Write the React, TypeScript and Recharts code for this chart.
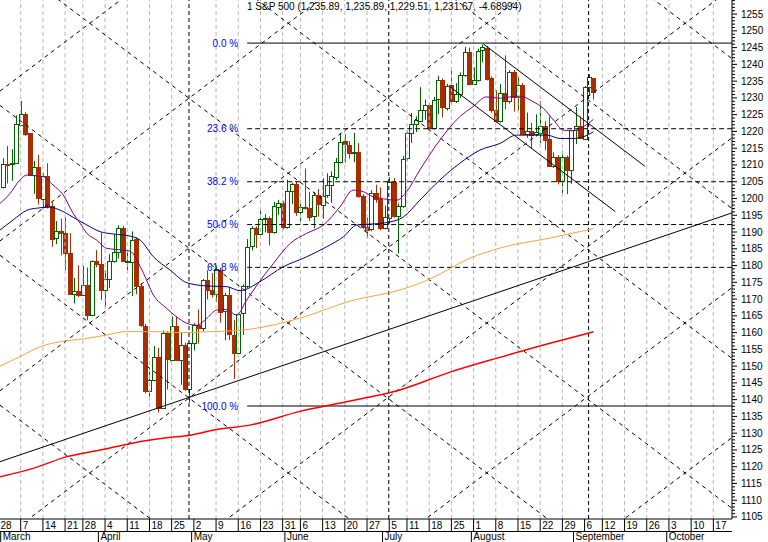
import React from 'react';
import { ComposedChart, Bar, Line, XAxis, YAxis, ReferenceLine } from 'recharts';

// S&P 500 daily, trading-day index i (0 = Mar 7 2005), first bar = Mar 1 (i = -4)
const firstIndex = -4;
const opens = [
  1203.6, 1210.4, 1210.1, 1210.5, 1222.1, 1225.3, 1219.4, 1207.0, 1209.3, 1200.1,
  1206.8, 1197.8, 1188.1, 1190.2, 1189.7, 1183.8, 1171.7, 1172.5, 1171.4, 1174.3,
  1165.4, 1181.4, 1180.6, 1172.9, 1176.1, 1181.4, 1184.1, 1191.1, 1181.2, 1181.2,
  1187.8, 1173.8, 1162.1, 1142.6, 1146.0, 1152.8, 1137.5, 1159.9, 1152.1, 1162.1,
  1151.8, 1156.4, 1143.2, 1156.9, 1162.2, 1161.2, 1175.7, 1172.6, 1171.4, 1178.8,
  1166.2, 1171.1, 1159.4, 1154.1, 1165.7, 1173.8, 1185.6, 1191.1, 1189.3, 1193.9,
  1194.1, 1190.0, 1197.6, 1198.8, 1191.5, 1202.3, 1204.3, 1196.0, 1197.5, 1197.3,
  1194.7, 1200.9, 1198.1, 1200.8, 1203.9, 1206.6, 1211.0, 1217.0, 1216.1, 1213.6,
  1213.9, 1200.7, 1191.6, 1190.7, 1201.6, 1199.9, 1191.3, 1194.4, 1205.0, 1194.9,
  1197.9, 1211.9, 1219.4, 1222.2, 1223.3, 1226.5, 1227.9, 1221.1, 1229.4, 1235.2,
  1227.0, 1233.7, 1229.0, 1231.2, 1236.8, 1243.7, 1234.2, 1235.4, 1244.1, 1245.0,
  1235.9, 1226.4, 1223.1, 1231.4, 1229.1, 1237.8, 1230.4, 1233.9, 1219.3, 1220.2,
  1219.0, 1219.7, 1221.7, 1217.6, 1209.6, 1212.4, 1205.1, 1212.3, 1208.4, 1220.3,
  1221.6, 1218.0, 1233.4, 1235.89,
];
const highs = [
  1212.0, 1215.7, 1214.7, 1224.8, 1229.1, 1225.7, 1219.4, 1211.2, 1213.0, 1207.6,
  1210.5, 1198.9, 1193.3, 1194.0, 1194.3, 1189.6, 1176.3, 1180.1, 1179.9, 1179.4,
  1181.5, 1184.6, 1189.8, 1178.6, 1183.4, 1189.3, 1192.0, 1191.8, 1184.1, 1190.2,
  1188.4, 1174.7, 1162.6, 1148.9, 1156.0, 1155.5, 1160.6, 1160.4, 1164.8, 1164.8,
  1159.9, 1157.0, 1157.0, 1162.9, 1166.9, 1176.0, 1178.6, 1177.8, 1180.0, 1179.4,
  1171.8, 1173.4, 1163.8, 1165.8, 1174.4, 1187.9, 1191.7, 1191.7, 1197.4, 1195.3,
  1194.6, 1199.0, 1199.6, 1199.3, 1205.6, 1204.7, 1205.1, 1198.8, 1208.9, 1202.0,
  1201.9, 1202.8, 1206.0, 1207.5, 1208.1, 1212.1, 1219.6, 1219.1, 1217.1, 1219.6,
  1216.5, 1201.3, 1194.3, 1202.5, 1204.1, 1203.3, 1197.9, 1206.3, 1206.1, 1198.5,
  1212.7, 1220.0, 1225.5, 1224.5, 1233.2, 1229.5, 1228.4, 1230.3, 1236.6, 1235.8,
  1234.2, 1238.4, 1234.4, 1237.6, 1245.2, 1245.0, 1239.1, 1244.7, 1245.9, 1245.5,
  1236.4, 1232.3, 1234.1, 1242.7, 1238.3, 1238.3, 1236.2, 1234.4, 1225.6, 1222.6,
  1225.1, 1229.0, 1223.0, 1224.5, 1213.7, 1212.9, 1214.3, 1212.8, 1220.4, 1227.3,
  1224.5, 1233.6, 1237.1, 1235.89,
];
const lows = [
  1203.0, 1204.5, 1205.3, 1210.5, 1222.1, 1218.6, 1206.7, 1201.4, 1198.2, 1197.0,
  1197.0, 1185.6, 1186.4, 1183.0, 1178.7, 1171.6, 1168.7, 1170.6, 1170.9, 1163.7,
  1164.9, 1179.5, 1169.7, 1167.7, 1173.3, 1180.9, 1182.1, 1181.1, 1178.7, 1170.9,
  1171.4, 1161.7, 1141.9, 1139.8, 1145.5, 1136.2, 1137.2, 1143.0, 1151.6, 1151.5,
  1144.4, 1142.6, 1139.1, 1154.7, 1156.7, 1160.4, 1169.9, 1170.5, 1169.1, 1163.0,
  1157.7, 1157.8, 1146.2, 1153.6, 1159.3, 1173.2, 1184.5, 1185.2, 1188.8, 1189.9,
  1186.0, 1189.5, 1195.1, 1190.8, 1191.0, 1198.4, 1194.8, 1192.8, 1196.7, 1193.3,
  1191.1, 1194.6, 1194.0, 1200.2, 1198.7, 1205.5, 1210.4, 1210.7, 1211.9, 1210.8,
  1200.2, 1190.9, 1188.3, 1190.2, 1198.7, 1190.5, 1190.8, 1192.5, 1194.3, 1183.6,
  1197.2, 1211.3, 1216.6, 1219.8, 1222.7, 1223.5, 1220.6, 1220.6, 1225.1, 1224.2,
  1226.2, 1228.2, 1228.5, 1230.0, 1236.3, 1233.7, 1233.8, 1234.9, 1240.6, 1235.2,
  1225.6, 1222.7, 1222.6, 1226.6, 1228.3, 1225.9, 1226.2, 1219.05, 1218.1, 1215.0,
  1218.5, 1216.5, 1214.4, 1209.5, 1209.1, 1204.2, 1201.5, 1201.3, 1204.4, 1216.2,
  1217.8, 1217.5, 1230.9, 1229.51,
];
const closes = [
  1210.41, 1210.08, 1210.47, 1222.12, 1225.31, 1219.43, 1207.01, 1209.25, 1200.08, 1206.83,
  1197.75, 1188.07, 1190.21, 1189.65, 1183.78, 1171.71, 1172.53, 1171.42, 1174.28, 1165.36,
  1181.41, 1180.59, 1172.92, 1176.12, 1181.39, 1184.07, 1191.14, 1181.20, 1181.21, 1187.76,
  1173.79, 1162.05, 1142.62, 1145.98, 1152.78, 1137.50, 1159.95, 1152.12, 1162.10, 1151.83,
  1156.38, 1143.22, 1156.85, 1162.16, 1161.17, 1175.65, 1172.63, 1171.35, 1178.84, 1166.22,
  1171.11, 1159.36, 1154.05, 1165.69, 1173.80, 1185.56, 1191.08, 1189.28, 1193.86, 1194.07,
  1190.01, 1197.62, 1198.78, 1191.50, 1202.22, 1204.29, 1196.02, 1197.51, 1197.26, 1194.67,
  1200.93, 1198.11, 1200.82, 1203.91, 1206.58, 1210.96, 1216.96, 1216.10, 1213.61, 1213.88,
  1200.73, 1191.57, 1190.69, 1201.57, 1199.85, 1191.33, 1194.44, 1204.99, 1194.94, 1197.87,
  1211.86, 1219.44, 1222.21, 1223.29, 1226.50, 1227.92, 1221.13, 1229.35, 1235.20, 1227.04,
  1233.68, 1229.03, 1231.16, 1236.79, 1243.72, 1234.18, 1235.35, 1244.12, 1245.04, 1235.86,
  1226.42, 1223.13, 1231.38, 1229.13, 1237.81, 1230.39, 1233.87, 1219.34, 1220.24, 1219.02,
  1219.71, 1221.73, 1217.59, 1209.59, 1212.37, 1205.10, 1212.28, 1208.41, 1220.33, 1221.59,
  1218.02, 1233.39, 1236.36, 1231.67,
];

// moving averages: [day index, value]
const maPurple: [number, number][] = [
  [-4.66, 1198.5], [-2.4, 1201.5], [-0.2, 1205.5], [1.4, 1207.0], [3.6, 1206.7], [5.1, 1206.5],
  [7.3, 1204.0], [9.6, 1201.0], [11.8, 1195.6], [13.4, 1192.6], [14.9, 1189.6], [17.1, 1187.6],
  [19.4, 1185.1], [21.6, 1184.8], [24.6, 1184.3], [27.3, 1178.7], [29.9, 1171.2], [32.9, 1167.2],
  [35.1, 1164.7], [37.4, 1162.8], [39.6, 1162.2], [41.9, 1164.2], [44.1, 1166.7], [46.4, 1166.9],
  [48.6, 1165.2], [50.9, 1169.7], [53.4, 1174.5], [56.9, 1180.6], [60.7, 1186.6], [64.4, 1189.6],
  [68.2, 1192.1], [71.9, 1197.5], [74.9, 1202.5], [77.2, 1202.0], [79.4, 1200.5], [81.7, 1199.9],
  [84.7, 1199.5], [86.9, 1202.0], [89.9, 1208.5], [94.4, 1217.4], [98.9, 1224.4], [101.9, 1227.4],
  [104.9, 1230.3], [107.9, 1229.9], [110.2, 1230.3], [112.4, 1230.5], [115.5, 1228.8], [117.7, 1226.9],
  [120.0, 1223.4], [122.2, 1220.4], [124.5, 1220.2], [126.7, 1221.4], [129, 1223.6],
];
const maBlue: [number, number][] = [
  [-4.66, 1190.6], [-1.7, 1193.6], [1.4, 1196.5], [3.6, 1197.1], [6.6, 1197.4], [8.9, 1196.5],
  [11.8, 1194.4], [14.9, 1192.1], [17.9, 1190.1], [20.9, 1189.4], [24.6, 1188.8], [26.9, 1187.6],
  [29.9, 1182.6], [33.6, 1178.7], [37.4, 1174.9], [41.9, 1173.9], [46.4, 1173.7], [49.4, 1172.5],
  [53.9, 1175.2], [59.1, 1179.6], [64.4, 1182.6], [68.9, 1185.6], [72.7, 1188.6], [75.7, 1192.1],
  [79.4, 1192.4], [82.4, 1192.8], [86.2, 1194.5], [89.9, 1199.5], [94.4, 1205.5], [98.9, 1210.5],
  [103.4, 1214.4], [107.9, 1216.4], [111.7, 1218.9], [118.5, 1218.9], [121.5, 1217.9], [124.5, 1217.9],
  [126.7, 1218.4], [129, 1219.9],
];
const maOrange: [number, number][] = [
  [-4.66, 1150.0], [-0.2, 1152.8], [4.4, 1155.8], [8.9, 1157.3], [14.1, 1158.1], [19.4, 1159.3],
  [23.9, 1160.3], [29.9, 1160.3], [35.9, 1160.0], [43.4, 1160.3], [51.6, 1161.0], [62.9, 1164.3],
  [74.2, 1169.4], [86.2, 1173.0], [92.2, 1176.0], [101.2, 1182.2], [107.9, 1185.2], [119.2, 1188.2],
  [129, 1191.0],
];
const maRed: [number, number][] = [
  [-4.66, 1117.0], [2.8, 1119.5], [10.4, 1123.0], [17.9, 1125.0], [25.4, 1127.1], [32.9, 1128.6],
  [38.1, 1129.4], [44.1, 1131.1], [51.6, 1132.4], [62.9, 1136.5], [74.2, 1139.6], [85.4, 1142.9],
  [96.7, 1148.2], [107.9, 1152.6], [119.2, 1156.8], [129, 1160.2],
];

// axis
const xDomain: [number, number] = [-4.66, 160.2];
const yDomain: [number, number] = [1104.4, 1259.2];
const weekTickDays = [-5, 0, 5, 10, 14, 19, 24, 29, 34, 39, 44, 49, 54, 59, 63, 68, 73, 78, 83, 87,
  92, 97, 102, 107, 112, 117, 122, 127, 131, 136, 141, 146, 151, 156];
const weekTickLabels = ['28', '7', '14', '21', '28', '4', '11', '18', '25', '2', '9', '16', '23', '31',
  '6', '13', '20', '27', '5', '11', '18', '25', '1', '8', '15', '22', '29', '6', '12', '19', '26', '3', '10', '17'];
const monthTickDays = [-4.5, 17.5, 38.5, 59.5, 81.5, 101.5, 124.5, 145.5];
const monthNames = ['March', 'April', 'May', 'June', 'July', 'August', 'September', 'October'];
const cycleDays = [37.9, 82.9, 127.9];

// Fibonacci retracement
const fibHigh = 1246.35;
const fibLow = 1138.1;
const fibStartDay = 51;
const fibRatios = [0, 0.236, 0.382, 0.5, 0.618, 1];
const fibLabels = ['0.0 %', '23.6 %', '38.2 %', '50.0 %', '61.8 %', '100.0 %'];

// Gann lattice (slope +/- 1 point per day): rising p = c + i, falling p = d - i
const gannRising = [968.5, 1013.2, 1057.9, 1102.6, 1147.3, 1192.0, 1236.7];
const gannFalling = [1133.7, 1178.4, 1223.1, 1267.8, 1312.5, 1357.2, 1401.9];

// trend & channel lines: [day, price] pairs
const trendLine: [number, number][] = [[-4.66, 1121.5], [160.2, 1195.7]];
const channelUpper: [number, number][] = [[104.2, 1246.1], [140.6, 1209.6]];
const channelLower: [number, number][] = [[96.7, 1233.3], [133.9, 1196.1]];

const title = '1 S&P 500 (1,235.89, 1,235.89, 1,229.51, 1,231.67, -4.68994)';

const GREEN = '#006400';
const RED = '#aa2d00';
const FONT = '"Liberation Sans", Arial, sans-serif';

const candles = opens.map((o, k) => ({
  i: firstIndex + k,
  o,
  h: highs[k],
  l: lows[k],
  c: closes[k],
  range: [lows[k], highs[k]],
}));
const toSeries = (arr: [number, number][]) => arr.map(([i, v]) => ({ i, v }));

const monthMap = new Map<number, string>(monthTickDays.map((d, k) => [d, monthNames[k]]));
const weekMap = new Map<number, string>(weekTickDays.map((d, k) => [d, weekTickLabels[k]]));
const yTicks: number[] = [];
for (let v = 1105; v <= 1259; v++) yTicks.push(v);

const Candle = (props: any) => {
  const { x, y, width, height, payload } = props;
  if (!payload || height == null || isNaN(height)) return null;
  const { o, h, l, c } = payload;
  const px = Math.round(x + width / 2);
  const ppu = height / (h - l);
  const yO = y + (h - o) * ppu;
  const yC = y + (h - c) * ppu;
  const up = c >= o;
  const col = up ? GREEN : RED;
  const top = Math.round(Math.min(yO, yC));
  const bh = Math.max(Math.round(Math.abs(yO - yC)), 1);
  return (
    <g>
      <line x1={px + 0.5} x2={px + 0.5} y1={y} y2={y + height} stroke={col} strokeWidth={1} />
      {up ? (
        <rect x={px - 1.5} y={top + 0.5} width={4} height={bh} fill="#ffffff" stroke={col} strokeWidth={1} />
      ) : (
        <rect x={px - 2} y={top} width={5} height={bh + 1} fill={col} />
      )}
    </g>
  );
};

const XTick = (props: any) => {
  const { x, y, payload } = props;
  const v = payload.value;
  const m = monthMap.get(v);
  if (m) {
    return (
      <g>
        <line x1={x} x2={x} y1={y + 12} y2={y + 23} stroke="#000" />
        <text x={x + 2} y={y + 21} fontSize={10} fontFamily={FONT} fill="#000">{m}</text>
      </g>
    );
  }
  const d = weekMap.get(v);
  return (
    <g>
      <line x1={x} x2={x} y1={y} y2={y + 12} stroke="#000" />
      <text x={x + 2} y={y + 10} fontSize={10} fontFamily={FONT} fill="#000">{d}</text>
    </g>
  );
};

const YTick = (props: any) => {
  const { x, y, payload } = props;
  const v = payload.value;
  const major = v % 5 === 0;
  return (
    <g>
      <line x1={x} x2={x + (major ? 5 : 3)} y1={y} y2={y} stroke="#000" />
      {major && v <= 1255 ? (
        <text x={x + 9} y={y} dy="0.35em" fontSize={10} fontFamily={FONT} fill="#000">{v}</text>
      ) : null}
    </g>
  );
};

export default function App() {
  const fibLevels = fibRatios.map((r) => fibHigh - (fibHigh - fibLow) * r);
  return (
    <div style={{ position: 'absolute', left: 0, top: 0, width: 768, height: 542, background: '#fff', overflow: 'hidden' }}>
      <ComposedChart width={768} height={542} data={candles} margin={{ top: 0, right: 0, bottom: 0, left: 0 }}>
        <XAxis
          dataKey="i"
          type="number"
          domain={xDomain}
          allowDataOverflow
          ticks={[...weekTickDays, ...monthTickDays]}
          interval={0}
          tick={<XTick />}
          tickLine={false}
          tickSize={0}
          tickMargin={0}
          height={23}
          axisLine={{ stroke: '#000' }}
        />
        <YAxis
          orientation="right"
          type="number"
          domain={yDomain}
          allowDataOverflow
          ticks={yTicks}
          interval={0}
          tick={<YTick />}
          tickLine={false}
          tickSize={0}
          tickMargin={0}
          width={36}
          axisLine={{ stroke: '#000' }}
        />
        {weekTickDays
          .filter((d) => d > xDomain[0] && !cycleDays.some((c) => Math.abs(c - d) < 1.5))
          .map((d) => (
            <ReferenceLine key={'w' + d} x={d} stroke="#b8b8b8" strokeDasharray="4 3" />
          ))}
        {cycleDays.map((d) => (
          <ReferenceLine key={'c' + d} x={d} stroke="#000" strokeDasharray="4 3" />
        ))}
        {gannRising.map((c) => (
          <ReferenceLine
            key={'gr' + c}
            segment={[{ x: xDomain[0], y: c + xDomain[0] }, { x: xDomain[1], y: c + xDomain[1] }]}
            stroke="#000"
            strokeDasharray="4 4"
            ifOverflow="hidden"
          />
        ))}
        {gannFalling.map((d) => (
          <ReferenceLine
            key={'gf' + d}
            segment={[{ x: xDomain[0], y: d - xDomain[0] }, { x: xDomain[1], y: d - xDomain[1] }]}
            stroke="#000"
            strokeDasharray="4 4"
            ifOverflow="hidden"
          />
        ))}
        {fibLevels.map((lv, k) => (
          <ReferenceLine
            key={'f' + k}
            segment={[{ x: fibStartDay, y: lv }, { x: xDomain[1], y: lv }]}
            stroke="#000"
            strokeDasharray={k === 0 || k === fibLevels.length - 1 ? undefined : '5 3'}
            ifOverflow="visible"
            label={{ value: fibLabels[k], position: 'left', offset: 9, fill: '#0000ff', fontSize: 10, fontFamily: FONT }}
          />
        ))}
        <Bar dataKey="range" barSize={4} shape={<Candle />} isAnimationActive={false} />
        <Line data={toSeries(maRed)} dataKey="v" type="monotone" stroke="#ff0000" strokeWidth={1.5} dot={false} isAnimationActive={false} />
        <Line data={toSeries(maOrange)} dataKey="v" type="monotone" stroke="#ffa040" strokeWidth={1} dot={false} isAnimationActive={false} />
        <Line data={toSeries(maBlue)} dataKey="v" type="monotone" stroke="#000080" strokeWidth={1} dot={false} isAnimationActive={false} />
        <Line data={toSeries(maPurple)} dataKey="v" type="monotone" stroke="#800080" strokeWidth={1} dot={false} isAnimationActive={false} />
        <ReferenceLine
          segment={trendLine.map(([x, y]) => ({ x, y }))}
          stroke="#000"
          ifOverflow="visible"
        />
        <ReferenceLine segment={channelUpper.map(([x, y]) => ({ x, y }))} stroke="#000" ifOverflow="visible" />
        <ReferenceLine segment={channelLower.map(([x, y]) => ({ x, y }))} stroke="#000" ifOverflow="visible" />
      </ComposedChart>
      <div style={{ position: 'absolute', left: 0, top: 531, width: 732, height: 1, background: '#000' }} />
      <div style={{ position: 'absolute', left: 247, top: 1, fontSize: 10, lineHeight: '12px', fontFamily: FONT, color: '#000', whiteSpace: 'nowrap' }}>
        {title}
      </div>
    </div>
  );
}
